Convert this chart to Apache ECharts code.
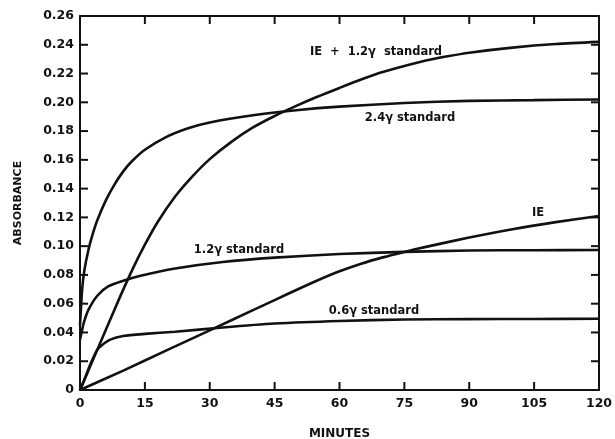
<!DOCTYPE html>
<html>
<head>
<meta charset="utf-8">
<script src="https://cdn.jsdelivr.net/npm/echarts@6/dist/echarts.min.js"></script>
<style>
html,body{margin:0;padding:0;background:#fff;}
#chart{width:615px;height:439px;}
</style>
</head>
<body>
<div id="chart"></div>
<script>
// ---- data (minutes, absorbance) ----
var xTicks = [0, 15, 30, 45, 60, 75, 90, 105, 120];
var yTicks = [0, 0.02, 0.04, 0.06, 0.08, 0.10, 0.12, 0.14, 0.16, 0.18, 0.20, 0.22, 0.24, 0.26];

var t24 = [0, 0.5, 1, 2, 3, 4, 6, 8, 10, 12, 15, 20, 25, 30, 40, 50, 60, 75, 90, 105, 120];
var y24 = [0.045, 0.07, 0.083, 0.098, 0.109, 0.118, 0.132, 0.143, 0.152, 0.159, 0.167, 0.176, 0.182, 0.186, 0.191, 0.1945, 0.197, 0.1995, 0.201, 0.2015, 0.202];

var t12 = [0, 0.5, 1, 2, 4, 6.5, 10, 14, 22, 33, 45, 60, 75, 90, 105, 120];
var y12 = [0.035, 0.042, 0.048, 0.056, 0.0655, 0.072, 0.076, 0.0795, 0.0845, 0.089, 0.092, 0.0945, 0.096, 0.097, 0.0972, 0.0973];

var t06 = [0, 1, 2, 3, 4, 5, 7, 10, 15, 22, 33, 45, 60, 75, 90, 105, 120];
var y06 = [0, 0.007, 0.015, 0.022, 0.028, 0.031, 0.035, 0.0375, 0.039, 0.0405, 0.0435, 0.0462, 0.048, 0.049, 0.0493, 0.0494, 0.0495];

var tIE = [0, 10, 20, 30, 40, 45, 50, 55, 60, 65, 70, 75, 80, 90, 100, 110, 120];
var yIE = [0, 0.0135, 0.0275, 0.0415, 0.0555, 0.0625, 0.0695, 0.0763, 0.0825, 0.0878, 0.0922, 0.096, 0.0995, 0.106, 0.1118, 0.1167, 0.121];

var tIEs = [0, 3, 6, 9, 12, 15, 18, 22, 26, 30, 35, 40, 45, 50, 55, 60, 65, 70, 80, 85, 90, 100, 110, 120];
var yIEs = [0, 0.021, 0.042, 0.063, 0.083, 0.101, 0.117, 0.1345, 0.1485, 0.1605, 0.1725, 0.1825, 0.1905, 0.1975, 0.204, 0.21, 0.2158, 0.221, 0.229, 0.232, 0.2345, 0.238, 0.2405, 0.242];

var labels = ['IE  +  1.2\u03b3  standard', '2.4\u03b3 standard', '1.2\u03b3 standard', '0.6\u03b3 standard', 'IE'];

function pairs(t, y) { return t.map(function (v, i) { return [v, y[i]]; }); }

var chart = echarts.init(document.getElementById('chart'), null, {renderer: 'canvas'});
var FONT = '"DejaVu Sans", sans-serif';
var X0 = xTicks[0], X1 = xTicks[xTicks.length - 1];
var Y0 = yTicks[0], Y1 = yTicks[yTicks.length - 1];
var TICK = 8;
function mkLine() { return {show: true, onZero: false, lineStyle: {color: '#111', width: 2}}; }

function lineSeries(name, t, y) {
  return {
    name: name, type: 'line', xAxisIndex: 0, yAxisIndex: 0,
    data: pairs(t, y), showSymbol: false, symbol: 'none',
    smooth: 0.25,
    lineStyle: {color: '#111', width: 2.6}, silent: true, animation: false
  };
}

var baseSeries = [
  lineSeries('2.4 standard', t24, y24),
  lineSeries('1.2 standard', t12, y12),
  lineSeries('0.6 standard', t06, y06),
  lineSeries('IE', tIE, yIE),
  lineSeries('IE + 1.2 standard', tIEs, yIEs)
];

var option = {
  animation: false,
  backgroundColor: '#fff',
  grid: {left: 80, right: 16, top: 16, bottom: 49, containLabel: false, outerBoundsMode: 'none'},
  xAxis: [{
    type: 'value', min: X0, max: X1, interval: 15, position: 'bottom',
    axisLine: mkLine(), axisTick: {show: false}, splitLine: {show: false},
    axisLabel: {margin: 7, color: '#111', fontFamily: FONT, fontWeight: 'bold', fontSize: 12.5},
    name: 'MINUTES', nameLocation: 'middle', nameGap: 38,
    nameTextStyle: {color: '#111', fontFamily: FONT, fontWeight: 'bold', fontSize: 12}
  }, {
    type: 'value', min: X0, max: X1, interval: 15, position: 'top',
    axisLine: mkLine(), axisTick: {show: false}, splitLine: {show: false}, axisLabel: {show: false}
  }],
  yAxis: [{
    type: 'value', min: Y0, max: Y1, interval: 0.02, position: 'left',
    axisLine: mkLine(), axisTick: {show: false}, splitLine: {show: false},
    axisLabel: {margin: 6, color: '#111', fontFamily: FONT, fontWeight: 'bold', fontSize: 12.5,
      formatter: function (v) { return v === 0 ? '0' : v.toFixed(2); }},
    name: 'ABSORBANCE', nameLocation: 'middle', nameGap: 56, nameRotate: 90,
    nameTextStyle: {color: '#111', fontFamily: FONT, fontWeight: 'bold', fontSize: 11}
  }, {
    type: 'value', min: Y0, max: Y1, interval: 0.02, position: 'right',
    axisLine: mkLine(), axisTick: {show: false}, splitLine: {show: false}, axisLabel: {show: false}
  }],
  series: baseSeries,
  graphic: [
    {type: 'text', x: 376, y: 52, style: {text: labels[0], textAlign: 'center', textVerticalAlign: 'middle', fill: '#111', font: 'bold 11.5px ' + FONT}},
    {type: 'text', x: 410, y: 118, style: {text: labels[1], textAlign: 'center', textVerticalAlign: 'middle', fill: '#111', font: 'bold 11.5px ' + FONT}},
    {type: 'text', x: 239, y: 250, style: {text: labels[2], textAlign: 'center', textVerticalAlign: 'middle', fill: '#111', font: 'bold 11.5px ' + FONT}},
    {type: 'text', x: 374, y: 311, style: {text: labels[3], textAlign: 'center', textVerticalAlign: 'middle', fill: '#111', font: 'bold 11.5px ' + FONT}},
    {type: 'text', x: 538, y: 213, style: {text: labels[4], textAlign: 'center', textVerticalAlign: 'middle', fill: '#111', font: 'bold 11.5px ' + FONT}}
  ]
};
chart.setOption(option);

// Inward tick marks: short line-series segments at each tick value.
// Their data-space length is derived from the axis scales (TICK pixels).
var pA = chart.convertToPixel({gridIndex: 0}, [X0, Y0]);
var pB = chart.convertToPixel({gridIndex: 0}, [X1, Y1]);
var dx = TICK * (X1 - X0) / Math.abs(pB[0] - pA[0]);
var dy = TICK * (Y1 - Y0) / Math.abs(pA[1] - pB[1]);

function tickSeg(data) {
  return {
    type: 'line', xAxisIndex: 0, yAxisIndex: 0, data: data,
    showSymbol: false, symbol: 'none', smooth: false, clip: false, silent: true,
    lineStyle: {color: '#111', width: 2}, animation: false, z: 5
  };
}
var tickSeries = [];
xTicks.forEach(function (v) {
  tickSeries.push(tickSeg([[v, Y0], [v, Y0 + dy]]));
  tickSeries.push(tickSeg([[v, Y1], [v, Y1 - dy]]));
});
yTicks.forEach(function (v) {
  tickSeries.push(tickSeg([[X0, v], [X0 + dx, v]]));
  tickSeries.push(tickSeg([[X1, v], [X1 - dx, v]]));
});
chart.setOption({series: baseSeries.concat(tickSeries)});
</script>
</body>
</html>
